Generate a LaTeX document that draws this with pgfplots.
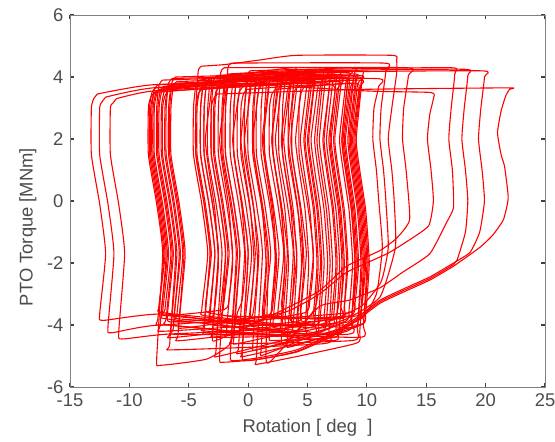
\documentclass[border=0pt]{standalone}
\usepackage{fontspec}
\setmainfont{Liberation Sans}
\usepackage{pgfplots}
\pgfplotsset{compat=1.18}

\begin{document}
\fontsize{9.2}{11}\selectfont
\begin{tikzpicture}
\begin{axis}[
  scale only axis,
  width=237.5pt, height=186pt,
  xmin=-15, xmax=25, ymin=-6, ymax=6,
  xtick={-15,-10,-5,0,5,10,15,20,25},
  xticklabels={-15,-10,-5,0,5,10,15,20,25},
  ytick={-6,-4,-2,0,2,4,6},
  yticklabels={-6,-4,-2,0,2,4,6},
  tick align=inside,
  major tick length=2pt,
  axis line style={black!50},
  tick style={black!75, line width=0.6pt},
  ticklabel style={text=black!70},
  xlabel style={text=black!70},
  xlabel={Rotation [ deg\ \ ]},
  ylabel={PTO Torque [MNm]},
  every axis y label/.style={at={(axis description cs:-0.057,0.43)}, anchor=south, rotate=90, text=black!70},
  every axis plot post/.append style={red, solid, line width=0.55pt, line join=round, mark=none, smooth, tension=0.3},
]
% wide loops reaching far left
\addplot coordinates {(-12.7,3.45) (-8.0,3.75) (5.1,3.9) (5.3,3.65) (4.8,2.0) (5.1,1.0) (5.6,-0.3) (5.9,-2.0) (5.6,-3.9) (5.2,-4.3) (-7.0,-3.65) (-12.2,-3.85) (-12.5,-3.65) (-12.0,-1.7) (-12.5,-0.1) (-13.2,1.5) (-13.2,3.0) (-13.0,3.3) (-12.7,3.45)};
\addplot coordinates {(-12.0,3.35) (-8.0,3.65) (6.9,4.05) (7.1,3.8) (6.6,2.0) (6.9,1.0) (7.4,-0.3) (7.7,-2.0) (7.4,-4.1) (7.0,-4.5) (-7.0,-4.0) (-11.5,-4.25) (-11.8,-4.05) (-11.3,-1.7) (-11.8,-0.1) (-12.5,1.5) (-12.5,3.0) (-12.3,3.2) (-12.0,3.35)};
\addplot coordinates {(-11.1,3.3) (-8.0,3.55) (3.1,3.8) (3.3,3.55) (2.8,2.0) (3.1,1.0) (3.6,-0.3) (3.9,-2.0) (3.6,-3.7) (3.2,-4.1) (-7.0,-4.3) (-10.6,-4.45) (-10.9,-4.25) (-10.4,-1.7) (-10.9,-0.1) (-11.6,1.5) (-11.6,3.0) (-11.4,3.15) (-11.1,3.3)};
% loops starting near -8 ... -6.5
\addplot coordinates {(-7.9,3.5) (-1.0,3.7) (-0.8,3.45) (-1.3,2.0) (-1.0,1.0) (-0.5,-0.3) (-0.2,-2.0) (-0.5,-3.2) (-0.9,-3.6) (-1.5,-4.6) (-3.5,-5.1) (-7.4,-5.3) (-7.7,-5.1) (-7.2,-1.7) (-7.7,-0.1) (-8.4,1.5) (-8.4,3.0) (-8.2,3.35) (-7.9,3.5)};
\addplot coordinates {(-7.7,3.55) (0.7,3.9) (0.9,3.65) (0.4,2.0) (0.7,1.0) (1.2,-0.3) (1.5,-2.0) (1.2,-3.5) (0.8,-3.9) (-7.2,-3.6) (-7.5,-3.4) (-7.0,-1.7) (-7.5,-0.1) (-8.2,1.5) (-8.2,3.0) (-8.0,3.4) (-7.7,3.55)};
\addplot coordinates {(-7.4,3.6) (2.6,4.0) (2.8,3.75) (2.3,2.0) (2.6,1.0) (3.1,-0.3) (3.4,-2.0) (3.1,-3.8) (2.7,-4.2) (-6.9,-3.8) (-7.2,-3.6) (-6.7,-1.7) (-7.2,-0.1) (-7.9,1.5) (-7.9,3.0) (-7.7,3.45) (-7.4,3.6)};
\addplot coordinates {(-7.1,3.7) (4.3,4.1) (4.5,3.85) (4.0,2.0) (4.3,1.0) (4.8,-0.3) (5.1,-2.0) (4.8,-4.0) (4.4,-4.4) (-6.6,-4.0) (-6.9,-3.8) (-6.4,-1.7) (-6.9,-0.1) (-7.6,1.5) (-7.6,3.0) (-7.4,3.55) (-7.1,3.7)};
\addplot coordinates {(-6.8,3.65) (6.3,4.2) (6.5,3.95) (6.0,2.0) (6.3,1.0) (6.8,-0.3) (7.1,-2.0) (6.8,-4.2) (6.4,-4.6) (-6.3,-4.8) (-6.6,-4.6) (-6.1,-1.7) (-6.6,-0.1) (-7.3,1.5) (-7.3,3.0) (-7.1,3.5) (-6.8,3.65)};
\addplot coordinates {(-6.5,3.75) (8.2,4.2) (8.4,3.95) (7.9,2.0) (8.2,1.0) (8.7,-0.3) (9.0,-2.0) (8.7,-3.9) (8.3,-4.3) (-6.0,-4.3) (-6.3,-4.1) (-5.8,-1.7) (-6.3,-0.1) (-7.0,1.5) (-7.0,3.0) (-6.8,3.6) (-6.5,3.75)};
\addplot coordinates {(-6.2,3.8) (9.0,4.0) (9.2,3.75) (8.7,2.0) (9.0,1.0) (9.5,-0.3) (9.8,-2.0) (9.5,-3.6) (9.1,-4.0) (-5.7,-3.9) (-6.0,-3.7) (-5.5,-1.7) (-6.0,-0.1) (-6.7,1.5) (-6.7,3.0) (-6.5,3.65) (-6.2,3.8)};
\addplot coordinates {(-6.0,3.85) (1.5,3.95) (1.7,3.7) (1.2,2.0) (1.5,1.0) (2.0,-0.3) (2.3,-2.0) (2.0,-3.3) (1.6,-3.7) (-5.5,-4.1) (-5.8,-3.9) (-5.3,-1.7) (-5.8,-0.1) (-6.5,1.5) (-6.5,3.0) (-6.3,3.7) (-6.0,3.85)};
\addplot coordinates {(-7.5,3.6) (-2.1,3.75) (-1.9,3.5) (-2.4,2.0) (-2.1,1.0) (-1.6,-0.3) (-1.3,-2.0) (-1.6,-3.1) (-2.0,-3.5) (-7.0,-3.7) (-7.3,-3.5) (-6.8,-1.7) (-7.3,-0.1) (-8.0,1.5) (-8.0,3.0) (-7.8,3.45) (-7.5,3.6)};
\addplot coordinates {(-7.0,3.65) (-3.3,3.8) (-3.1,3.55) (-3.6,2.0) (-3.3,1.0) (-2.8,-0.3) (-2.5,-2.0) (-2.8,-3.4) (-3.2,-3.8) (-6.5,-3.9) (-6.8,-3.7) (-6.3,-1.7) (-6.8,-0.1) (-7.5,1.5) (-7.5,3.0) (-7.3,3.5) (-7.0,3.65)};
\addplot coordinates {(-7.6,3.75) (3.9,3.95) (4.1,3.7) (3.6,2.0) (3.9,1.0) (4.4,-0.3) (4.7,-2.0) (4.4,-3.5) (4.0,-3.9) (-7.1,-4.2) (-7.4,-4.0) (-6.9,-1.7) (-7.4,-0.1) (-8.1,1.5) (-8.1,3.0) (-7.9,3.6) (-7.6,3.75)};
\addplot coordinates {(-7.2,3.9) (5.9,4.05) (6.1,3.8) (5.6,2.0) (5.9,1.0) (6.4,-0.3) (6.7,-2.0) (6.4,-3.7) (6.0,-4.1) (-6.7,-3.7) (-7.0,-3.5) (-6.5,-1.7) (-7.0,-0.1) (-7.7,1.5) (-7.7,3.0) (-7.5,3.75) (-7.2,3.9)};
\addplot coordinates {(-6.7,3.55) (7.3,3.85) (7.5,3.6) (7.0,2.0) (7.3,1.0) (7.8,-0.3) (8.1,-2.0) (7.8,-3.4) (7.4,-3.8) (-6.2,-4.4) (-6.5,-4.2) (-6.0,-1.7) (-6.5,-0.1) (-7.2,1.5) (-7.2,3.0) (-7.0,3.4) (-6.7,3.55)};
\addplot coordinates {(-6.4,3.95) (-0.3,4.0) (-0.1,3.75) (-0.6,2.0) (-0.3,1.0) (0.2,-0.3) (0.5,-2.0) (0.2,-3.5) (-0.2,-3.9) (-5.9,-3.8) (-6.2,-3.6) (-5.7,-1.7) (-6.2,-0.1) (-6.9,1.5) (-6.9,3.0) (-6.7,3.8) (-6.4,3.95)};
\addplot coordinates {(-7.8,3.65) (2.3,3.8) (2.5,3.55) (2.0,2.0) (2.3,1.0) (2.8,-0.3) (3.1,-2.0) (2.8,-3.3) (2.4,-3.7) (-7.3,-4.0) (-7.6,-3.8) (-7.1,-1.7) (-7.6,-0.1) (-8.3,1.5) (-8.3,3.0) (-8.1,3.5) (-7.8,3.65)};
\addplot coordinates {(-6.1,4.0) (5.0,4.1) (5.2,3.85) (4.7,2.0) (5.0,1.0) (5.5,-0.3) (5.8,-2.0) (5.5,-3.6) (5.1,-4.0) (-5.6,-4.5) (-5.9,-4.3) (-5.4,-1.7) (-5.9,-0.1) (-6.6,1.5) (-6.6,3.0) (-6.4,3.85) (-6.1,4.0)};
% loops starting between -4.6 and 4.3
\addplot coordinates {(-4.1,3.9) (3.7,4.3) (3.9,4.05) (3.4,2.0) (3.7,1.0) (4.2,-0.3) (4.5,-2.0) (4.2,-3.6) (3.8,-4.0) (-3.6,-3.7) (-3.9,-3.5) (-3.4,-1.7) (-3.9,-0.1) (-4.6,1.5) (-4.6,3.0) (-4.4,3.75) (-4.1,3.9)};
\addplot coordinates {(-3.5,3.8) (5.4,4.1) (5.6,3.85) (5.1,2.0) (5.4,1.0) (5.9,-0.3) (6.2,-2.0) (5.9,-3.9) (5.5,-4.3) (-3.0,-4.0) (-3.3,-3.8) (-2.8,-1.7) (-3.3,-0.1) (-4.0,1.5) (-4.0,3.0) (-3.8,3.65) (-3.5,3.8)};
\addplot coordinates {(-2.9,4.0) (6.7,4.2) (6.9,3.95) (6.4,2.0) (6.7,1.0) (7.2,-0.3) (7.5,-2.0) (7.2,-3.7) (6.8,-4.1) (-2.4,-5.0) (-2.7,-4.8) (-2.2,-1.7) (-2.7,-0.1) (-3.4,1.5) (-3.4,3.0) (-3.2,3.85) (-2.9,4.0)};
\addplot coordinates {(-2.3,3.75) (7.6,3.95) (7.8,3.7) (7.3,2.0) (7.6,1.0) (8.1,-0.3) (8.4,-2.0) (8.1,-3.4) (7.7,-3.8) (-1.8,-3.7) (-2.1,-3.5) (-1.6,-1.7) (-2.1,-0.1) (-2.8,1.5) (-2.8,3.0) (-2.6,3.6) (-2.3,3.75)};
\addplot coordinates {(-1.6,4.1) (8.7,4.3) (8.9,4.05) (8.4,2.0) (8.7,1.0) (9.2,-0.3) (9.5,-2.0) (9.2,-4.1) (8.8,-4.5) (-1.1,-4.6) (-1.4,-4.4) (-0.9,-1.7) (-1.4,-0.1) (-2.1,1.5) (-2.1,3.0) (-1.9,3.95) (-1.6,4.1)};
\addplot coordinates {(-1.0,3.9) (9.3,4.05) (9.5,3.8) (9.0,2.0) (9.3,1.0) (9.8,-0.3) (10.1,-2.0) (9.8,-3.6) (9.4,-4.0) (-0.5,-4.9) (-0.8,-4.7) (-0.3,-1.7) (-0.8,-0.1) (-1.5,1.5) (-1.5,3.0) (-1.3,3.75) (-1.0,3.9)};
\addplot coordinates {(-0.4,3.7) (4.7,3.85) (4.9,3.6) (4.4,2.0) (4.7,1.0) (5.2,-0.3) (5.5,-2.0) (5.2,-3.2) (4.8,-3.6) (0.1,-3.9) (-0.2,-3.7) (0.3,-1.7) (-0.2,-0.1) (-0.9,1.5) (-0.9,3.0) (-0.7,3.55) (-0.4,3.7)};
\addplot coordinates {(0.2,4.2) (6.1,4.25) (6.3,4.0) (5.8,2.0) (6.1,1.0) (6.6,-0.3) (6.9,-2.0) (6.6,-3.8) (6.2,-4.2) (0.7,-4.8) (0.4,-4.6) (0.9,-1.7) (0.4,-0.1) (-0.3,1.5) (-0.3,3.0) (-0.1,4.05) (0.2,4.2)};
\addplot coordinates {(0.9,3.85) (8.0,4.0) (8.2,3.75) (7.7,2.0) (8.0,1.0) (8.5,-0.3) (8.8,-2.0) (8.5,-3.5) (8.1,-3.9) (1.4,-4.95) (1.1,-4.75) (1.6,-1.7) (1.1,-0.1) (0.4,1.5) (0.4,3.0) (0.6,3.7) (0.9,3.85)};
\addplot coordinates {(1.6,4.0) (7.2,4.1) (7.4,3.85) (6.9,2.0) (7.2,1.0) (7.7,-0.3) (8.0,-2.0) (7.7,-4.0) (7.3,-4.4) (2.1,-4.5) (1.8,-4.3) (2.3,-1.7) (1.8,-0.1) (1.1,1.5) (1.1,3.0) (1.3,3.85) (1.6,4.0)};
\addplot coordinates {(2.3,3.6) (8.5,3.8) (8.7,3.55) (8.2,2.0) (8.5,1.0) (9.0,-0.3) (9.3,-2.0) (9.0,-3.3) (8.6,-3.7) (2.8,-3.8) (2.5,-3.6) (3.0,-1.7) (2.5,-0.1) (1.8,1.5) (1.8,3.0) (2.0,3.45) (2.3,3.6)};
\addplot coordinates {(3.1,4.1) (9.4,4.2) (9.6,3.95) (9.1,2.0) (9.4,1.0) (9.9,-0.3) (10.2,-2.0) (9.9,-3.6) (9.5,-4.0) (3.6,-4.7) (3.3,-4.5) (3.8,-1.7) (3.3,-0.1) (2.6,1.5) (2.6,3.0) (2.8,3.95) (3.1,4.1)};
\addplot coordinates {(3.9,3.9) (8.3,3.95) (8.5,3.7) (8.0,2.0) (8.3,1.0) (8.8,-0.3) (9.1,-2.0) (8.8,-3.5) (8.4,-3.9) (4.4,-4.0) (4.1,-3.8) (4.6,-1.7) (4.1,-0.1) (3.4,1.5) (3.4,3.0) (3.6,3.75) (3.9,3.9)};
\addplot coordinates {(4.8,3.7) (9.1,3.8) (9.3,3.55) (8.8,2.0) (9.1,1.0) (9.6,-0.3) (9.9,-2.0) (9.6,-3.3) (9.2,-3.7) (5.3,-3.8) (5.0,-3.6) (5.5,-1.7) (5.0,-0.1) (4.3,1.5) (4.3,3.0) (4.5,3.55) (4.8,3.7)};
\addplot coordinates {(-3.8,3.7) (0.0,3.8) (0.2,3.55) (-0.3,2.0) (0.0,1.0) (0.5,-0.3) (0.8,-2.0) (0.5,-3.4) (0.1,-3.8) (-3.3,-3.6) (-3.6,-3.4) (-3.1,-1.7) (-3.6,-0.1) (-4.3,1.5) (-4.3,3.0) (-4.1,3.55) (-3.8,3.7)};
\addplot coordinates {(-2.6,4.05) (2.3,4.15) (2.5,3.9) (2.0,2.0) (2.3,1.0) (2.8,-0.3) (3.1,-2.0) (2.8,-3.8) (2.4,-4.2) (-2.1,-4.0) (-2.4,-3.8) (-1.9,-1.7) (-2.4,-0.1) (-3.1,1.5) (-3.1,3.0) (-2.9,3.9) (-2.6,4.05)};
\addplot coordinates {(-3.9,3.6) (9.2,3.9) (9.4,3.65) (8.9,2.0) (9.2,1.0) (9.7,-0.3) (10.0,-2.0) (9.7,-4.0) (9.3,-4.4) (-3.4,-4.2) (-3.7,-4.0) (-3.2,-1.7) (-3.7,-0.1) (-4.4,1.5) (-4.4,3.0) (-4.2,3.45) (-3.9,3.6)};
\addplot coordinates {(-3.2,3.95) (1.6,4.1) (1.8,3.85) (1.3,2.0) (1.6,1.0) (2.1,-0.3) (2.4,-2.0) (2.1,-3.3) (1.7,-3.7) (-2.7,-4.5) (-3.0,-4.3) (-2.5,-1.7) (-3.0,-0.1) (-3.7,1.5) (-3.7,3.0) (-3.5,3.8) (-3.2,3.95)};
\addplot coordinates {(-2.4,3.7) (8.4,3.9) (8.6,3.65) (8.1,2.0) (8.4,1.0) (8.9,-0.3) (9.2,-2.0) (8.9,-3.2) (8.5,-3.6) (-1.9,-3.9) (-2.2,-3.7) (-1.7,-1.7) (-2.2,-0.1) (-2.9,1.5) (-2.9,3.0) (-2.7,3.55) (-2.4,3.7)};
\addplot coordinates {(-1.4,3.85) (3.3,4.0) (3.5,3.75) (3.0,2.0) (3.3,1.0) (3.8,-0.3) (4.1,-2.0) (3.8,-3.9) (3.4,-4.3) (-0.9,-4.3) (-1.2,-4.1) (-0.7,-1.7) (-1.2,-0.1) (-1.9,1.5) (-1.9,3.0) (-1.7,3.7) (-1.4,3.85)};
\addplot coordinates {(-0.7,4.05) (8.2,4.15) (8.4,3.9) (7.9,2.0) (8.2,1.0) (8.7,-0.3) (9.0,-2.0) (8.7,-3.8) (8.3,-4.2) (-0.2,-5.0) (-0.5,-4.8) (0.0,-1.7) (-0.5,-0.1) (-1.2,1.5) (-1.2,3.0) (-1.0,3.9) (-0.7,4.05)};
\addplot coordinates {(-0.1,3.6) (5.6,3.75) (5.8,3.5) (5.3,2.0) (5.6,1.0) (6.1,-0.3) (6.4,-2.0) (6.1,-3.6) (5.7,-4.0) (0.4,-4.0) (0.1,-3.8) (0.6,-1.7) (0.1,-0.1) (-0.6,1.5) (-0.6,3.0) (-0.4,3.45) (-0.1,3.6)};
\addplot coordinates {(0.5,3.95) (8.9,4.1) (9.1,3.85) (8.6,2.0) (8.9,1.0) (9.4,-0.3) (9.7,-2.0) (9.4,-4.2) (9.0,-4.6) (1.0,-5.25) (0.7,-5.05) (1.2,-1.7) (0.7,-0.1) (0.0,1.5) (0.0,3.0) (0.2,3.8) (0.5,3.95)};
\addplot coordinates {(1.2,3.75) (6.6,3.8) (6.8,3.55) (6.3,2.0) (6.6,1.0) (7.1,-0.3) (7.4,-2.0) (7.1,-3.4) (6.7,-3.8) (1.7,-3.7) (1.4,-3.5) (1.9,-1.7) (1.4,-0.1) (0.7,1.5) (0.7,3.0) (0.9,3.6) (1.2,3.75)};
\addplot coordinates {(1.9,4.15) (7.5,4.2) (7.7,3.95) (7.2,2.0) (7.5,1.0) (8.0,-0.3) (8.3,-2.0) (8.0,-3.9) (7.6,-4.3) (2.4,-4.1) (2.1,-3.9) (2.6,-1.7) (2.1,-0.1) (1.4,1.5) (1.4,3.0) (1.6,4.0) (1.9,4.15)};
\addplot coordinates {(2.6,3.8) (5.3,3.9) (5.5,3.65) (5.0,2.0) (5.3,1.0) (5.8,-0.3) (6.1,-2.0) (5.8,-3.2) (5.4,-3.6) (3.1,-4.6) (2.8,-4.4) (3.3,-1.7) (2.8,-0.1) (2.1,1.5) (2.1,3.0) (2.3,3.65) (2.6,3.8)};
\addplot coordinates {(3.4,3.95) (8.8,4.05) (9.0,3.8) (8.5,2.0) (8.8,1.0) (9.3,-0.3) (9.6,-2.0) (9.3,-3.7) (8.9,-4.1) (3.9,-3.9) (3.6,-3.7) (4.1,-1.7) (3.6,-0.1) (2.9,1.5) (2.9,3.0) (3.1,3.8) (3.4,3.95)};
\addplot coordinates {(4.2,3.7) (7.1,3.75) (7.3,3.5) (6.8,2.0) (7.1,1.0) (7.6,-0.3) (7.9,-2.0) (7.6,-3.4) (7.2,-3.8) (4.7,-3.9) (4.4,-3.7) (4.9,-1.7) (4.4,-0.1) (3.7,1.5) (3.7,3.0) (3.9,3.55) (4.2,3.7)};
% loops reaching far right
\addplot coordinates {(-2.6,3.45) (9.4,3.6) (21.9,3.65) (22.0,3.6) (21.7,3.4) (21.3,2.9) (21.0,2.2) (21.3,1.5) (21.6,1.1) (21.9,0.1) (21.5,-0.6) (20.6,-1.1) (19.5,-1.5) (17.3,-2.1) (15.3,-2.55) (13.0,-2.95) (11.1,-3.3) (9.0,-3.9) (6.9,-4.4) (4.1,-4.87) (1.0,-5.1) (-2.1,-5.2) (-2.4,-5.0) (-1.9,-1.7) (-2.4,-0.1) (-3.1,1.5) (-3.1,3.0) (-2.9,3.3) (-2.6,3.45)};
\addplot coordinates {(-1.7,3.95) (5.0,4.15) (19.6,4.2) (19.9,4.0) (19.6,3.0) (19.4,2.0) (19.7,1.0) (19.9,0.0) (19.5,-1.0) (18.7,-1.65) (17.3,-2.0) (15.3,-2.45) (13.0,-2.85) (11.1,-3.2) (9.0,-3.8) (6.9,-4.3) (4.1,-4.8) (1.0,-5.05) (-1.2,-5.15) (-1.5,-4.95) (-1.0,-1.7) (-1.5,-0.1) (-2.2,1.5) (-2.2,3.0) (-2.0,3.8) (-1.7,3.95)};
\addplot coordinates {(-0.7,4.0) (6.0,4.2) (18.2,4.25) (18.5,4.05) (18.2,3.0) (18.0,2.0) (18.3,1.0) (18.5,0.0) (18.3,-1.0) (17.6,-1.9) (17.3,-2.05) (15.3,-2.5) (13.0,-2.9) (11.1,-3.25) (9.0,-3.85) (6.9,-4.35) (4.1,-4.85) (1.0,-5.1) (-0.2,-5.15) (-0.5,-4.95) (0.0,-1.7) (-0.5,-0.1) (-1.2,1.5) (-1.2,3.0) (-1.0,3.85) (-0.7,4.0)};
\addplot coordinates {(1.0,4.1) (7.0,4.25) (17.1,4.3) (17.4,4.1) (17.1,3.0) (16.9,2.0) (17.2,1.0) (17.3,-0.2) (16.7,-0.7) (15.3,-1.7) (13.0,-2.3) (11.1,-2.8) (8.5,-3.2) (6.0,-3.4) (3.5,-4.5) (1.8,-5.2) (1.5,-5.0) (1.7,-1.7) (1.2,-0.1) (0.5,1.5) (0.5,3.0) (0.7,3.95) (1.0,4.1)};
\addplot coordinates {(-3.5,3.85) (10.0,3.55) (15.4,3.5) (15.6,3.3) (15.3,2.8) (15.1,2.0) (15.4,1.0) (15.6,0.0) (15.2,-0.8) (13.4,-1.3) (11.7,-1.7) (8.3,-2.3) (6.0,-3.0) (3.0,-3.6) (-2.8,-3.9) (-3.2,-3.7) (-2.8,-1.7) (-3.3,-0.1) (-4.0,1.5) (-4.0,3.0) (-3.8,3.7) (-3.5,3.85)};
\addplot coordinates {(-2.0,4.3) (13.3,4.3) (13.5,4.05) (13.1,3.0) (13.0,2.0) (13.3,1.0) (13.6,-0.6) (12.5,-1.2) (11.1,-1.6) (8.3,-2.1) (6.0,-2.9) (3.0,-3.5) (-1.5,-4.3) (-1.8,-4.1) (-1.3,-1.7) (-1.8,-0.1) (-2.5,1.5) (-2.5,3.0) (-2.3,4.15) (-2.0,4.3)};
\addplot coordinates {(-3.9,4.35) (-2.0,4.4) (1.0,4.55) (4.1,4.7) (12.1,4.7) (12.5,4.55) (12.5,4.1) (12.1,3.0) (11.8,2.0) (12.1,1.0) (12.3,0.0) (12.4,-1.5) (11.1,-3.1) (8.3,-3.8) (4.6,-4.2) (-3.4,-4.3) (-3.7,-4.1) (-3.2,-1.7) (-3.7,-0.1) (-4.4,1.5) (-4.4,3.0) (-4.2,4.2) (-3.9,4.35)};
\addplot coordinates {(-1.4,4.45) (11.4,4.45) (11.6,4.2) (11.2,3.0) (11.1,2.0) (11.4,1.0) (11.6,0.0) (11.8,-1.5) (11.2,-2.6) (9.5,-3.4) (6.0,-4.0) (-0.9,-4.6) (-1.2,-4.4) (-0.7,-1.7) (-1.2,-0.1) (-1.9,1.5) (-1.9,3.0) (-1.7,4.3) (-1.4,4.45)};
\addplot coordinates {(-3.2,3.95) (10.8,3.95) (11.0,3.7) (10.6,3.0) (10.5,2.0) (10.8,1.0) (11.0,0.0) (11.3,-1.5) (10.8,-3.0) (9.5,-3.8) (6.0,-4.3) (-2.7,-4.4) (-3.0,-4.2) (-2.5,-1.7) (-3.0,-0.1) (-3.7,1.5) (-3.7,3.0) (-3.5,3.8) (-3.2,3.95)};
\end{axis}
\pgfresetboundingbox
\path ([shift={(-35pt,-27pt)}]current axis.south west) rectangle ([shift={(242.5pt,193.5pt)}]current axis.south west);
\end{tikzpicture}
\end{document}
